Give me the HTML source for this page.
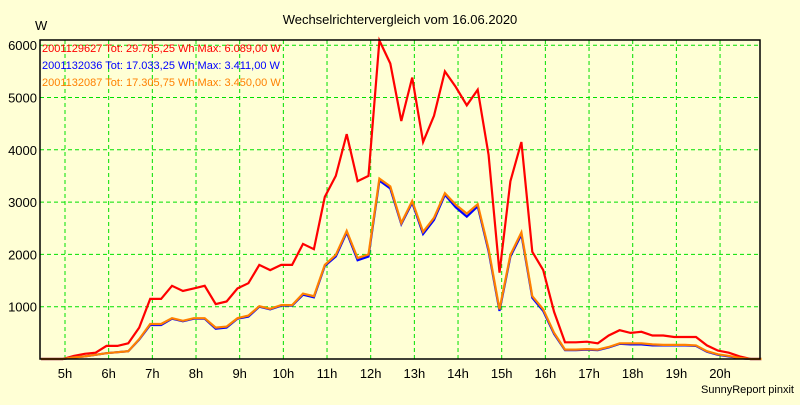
<!DOCTYPE html>
<html><head><meta charset="utf-8"><style>
body{margin:0;background:#ffffd5;}
svg text{font-family:"Liberation Sans",sans-serif;}
</style></head><body>
<svg id="chart" width="800" height="400" xmlns="http://www.w3.org/2000/svg">
<rect width="800" height="400" fill="#ffffd5"/>
<text x="400" y="24" text-anchor="middle" font-size="13" fill="#000">Wechselrichtervergleich vom 16.06.2020</text>
<text x="35" y="30" font-size="13" fill="#000">W</text>
<g id="grid"></g>
<g id="yticks"></g>
<g id="xticks"></g>
<g id="series"></g>
<rect x="40" y="40" width="720" height="319" fill="none" stroke="#000" stroke-width="1.5"/>
<g font-size="11">
<text x="42" y="52" fill="#ff0000">2001129627 Tot: 29.785,25 Wh Max: 6.089,00 W</text>
<text x="42" y="69" fill="#0000ff">2001132036 Tot: 17.033,25 Wh Max: 3.411,00 W</text>
<text x="42" y="86" fill="#ff8000">2001132087 Tot: 17.305,75 Wh Max: 3.450,00 W</text>
</g>
<text x="794" y="393" text-anchor="end" font-size="11" fill="#000">SunnyReport pinxit</text>
</svg>
<script>
const hourTicks=[5,6,7,8,9,10,11,12,13,14,15,16,17,18,19,20];
const yTicks=[1000,2000,3000,4000,5000,6000];
const startHour=4.45, stepHours=0.25;
const red=[0,0,0,60,100,120,250,250,300,600,1150,1150,1400,1300,1350,1400,1050,1100,1350,1450,1800,1700,1800,1800,2200,2100,3100,3500,4300,3400,3500,6089,5650,4550,5380,4150,4650,5500,5200,4850,5150,3900,1650,3400,4150,2050,1700,900,320,320,330,300,450,550,500,520,450,450,420,420,420,260,160,120,50,0,0];
const orange=[0,0,0,30,50,80,110,130,150,380,670,670,780,730,780,780,600,620,780,830,1010,960,1030,1030,1250,1200,1800,1990,2450,1930,2000,3450,3300,2600,3020,2430,2700,3170,2950,2780,2960,2100,950,1990,2420,1200,950,500,180,180,190,180,230,300,300,300,280,270,270,270,260,150,90,60,20,0,0];
const blue=[0,0,0,30,50,80,110,130,150,370,650,650,770,720,770,770,580,600,770,810,1000,950,1020,1020,1230,1180,1780,1960,2420,1890,1960,3411,3260,2580,2990,2390,2660,3140,2900,2720,2920,2060,920,1960,2380,1170,920,480,170,170,180,170,220,290,280,280,260,260,260,260,250,140,80,50,15,0,0];
const ns="http://www.w3.org/2000/svg";
const X=h=>65+(h-5)*43.67;
const Y=v=>359-v*0.0523;
const grid=document.getElementById('grid'),yt=document.getElementById('yticks'),xt=document.getElementById('xticks'),sg=document.getElementById('series');
hourTicks.forEach(h=>{
 const l=document.createElementNS(ns,'line');
 
 
 l.setAttribute('x1',X(h));l.setAttribute('x2',X(h));l.setAttribute('y1',40);l.setAttribute('y2',359);
 l.setAttribute('stroke','#00e000');l.setAttribute('stroke-dasharray','4,3');grid.appendChild(l);
 const t=document.createElementNS(ns,'text');
 
 
 t.setAttribute('x',X(h));t.setAttribute('y',378);t.setAttribute('text-anchor','middle');t.setAttribute('font-size','13');
 t.textContent=h+'h';xt.appendChild(t);
});
yTicks.forEach(v=>{
 const l=document.createElementNS(ns,'line');
 
 
 l.setAttribute('x1',40);l.setAttribute('x2',760);l.setAttribute('y1',Y(v));l.setAttribute('y2',Y(v));
 l.setAttribute('stroke','#00e000');l.setAttribute('stroke-dasharray','4,3');grid.appendChild(l);
 const t=document.createElementNS(ns,'text');
 
 
 t.setAttribute('x',37);t.setAttribute('y',Y(v)+5);t.setAttribute('text-anchor','end');t.setAttribute('font-size','13');
 t.textContent=v;yt.appendChild(t);
});
function draw(arr,color,name){
 const p=document.createElementNS(ns,'polyline');
 
 
 p.setAttribute('points',arr.map((v,i)=>X(startHour+i*stepHours).toFixed(1)+','+Y(v).toFixed(1)).join(' '));
 p.setAttribute('fill','none');p.setAttribute('stroke',color);p.setAttribute('stroke-width','2.2');
 sg.appendChild(p);
}
draw(red,'#ff0000','series-2001129627');
draw(blue,'#0000ff','series-2001132036');
draw(orange,'#ff8000','series-2001132087');
</script>
</body></html>
